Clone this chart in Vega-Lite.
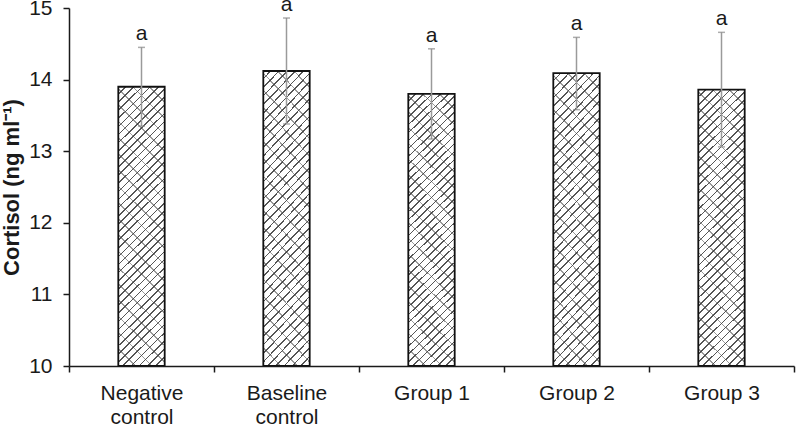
{
  "$schema": "https://vega.github.io/schema/vega-lite/v6.json",
  "width": 725,
  "height": 358,
  "autosize": "none",
  "padding": {"left": 69, "top": 8, "right": 2, "bottom": 58},
  "config": {"view": {"stroke": null}, "font": "Liberation Sans"},
  "data": {
    "values": [
      {"group": "Negative control", "mean": 13.9, "lo": 13.35, "hi": 14.45, "sig": "a"},
      {"group": "Baseline control", "mean": 14.12, "lo": 13.38, "hi": 14.86, "sig": "a"},
      {"group": "Group 1", "mean": 13.8, "lo": 13.17, "hi": 14.43, "sig": "a"},
      {"group": "Group 2", "mean": 14.09, "lo": 13.58, "hi": 14.59, "sig": "a"},
      {"group": "Group 3", "mean": 13.86, "lo": 13.06, "hi": 14.66, "sig": "a"}
    ]
  },
  "encoding": {
    "x": {
      "field": "group",
      "type": "nominal",
      "sort": null,
      "scale": {"paddingInner": 0, "paddingOuter": 0},
      "axis": {
        "title": null,
        "labelAngle": 0,
        "labelFontSize": 21,
        "labelColor": "#1a1a1a",
        "labelPadding": 10,
        "labelLineHeight": 24,
        "labelExpr": "indexof(datum.label, 'control') > 0 ? split(datum.label, ' ') : datum.label",
        "domainColor": "#1a1a1a",
        "domainWidth": 1.5,
        "tickColor": "#1a1a1a",
        "tickWidth": 1.5,
        "tickSize": 6,
        "tickBand": "extent",
        "zindex": 1
      }
    }
  },
  "layer": [
    {
      "mark": {
        "type": "bar",
        "width": {"band": 0.32},
        "fill": {
          "gradient": "linear",
          "x1": 0, "y1": 0, "x2": 0.186, "y2": 1.133,
          "stops": [
            {"offset": 0, "color": "#ffffff"}, {"offset": 0.02, "color": "#ffffff"}, {"offset": 0.02, "color": "#555555"}, {"offset": 0.025, "color": "#555555"},
            {"offset": 0.025, "color": "#ffffff"}, {"offset": 0.045, "color": "#ffffff"}, {"offset": 0.045, "color": "#555555"}, {"offset": 0.05, "color": "#555555"},
            {"offset": 0.05, "color": "#ffffff"}, {"offset": 0.07, "color": "#ffffff"}, {"offset": 0.07, "color": "#555555"}, {"offset": 0.075, "color": "#555555"},
            {"offset": 0.075, "color": "#ffffff"}, {"offset": 0.095, "color": "#ffffff"}, {"offset": 0.095, "color": "#555555"}, {"offset": 0.1, "color": "#555555"},
            {"offset": 0.1, "color": "#ffffff"}, {"offset": 0.12, "color": "#ffffff"}, {"offset": 0.12, "color": "#555555"}, {"offset": 0.125, "color": "#555555"},
            {"offset": 0.125, "color": "#ffffff"}, {"offset": 0.145, "color": "#ffffff"}, {"offset": 0.145, "color": "#555555"}, {"offset": 0.15, "color": "#555555"},
            {"offset": 0.15, "color": "#ffffff"}, {"offset": 0.17, "color": "#ffffff"}, {"offset": 0.17, "color": "#555555"}, {"offset": 0.175, "color": "#555555"},
            {"offset": 0.175, "color": "#ffffff"}, {"offset": 0.195, "color": "#ffffff"}, {"offset": 0.195, "color": "#555555"}, {"offset": 0.2, "color": "#555555"},
            {"offset": 0.2, "color": "#ffffff"}, {"offset": 0.22, "color": "#ffffff"}, {"offset": 0.22, "color": "#555555"}, {"offset": 0.225, "color": "#555555"},
            {"offset": 0.225, "color": "#ffffff"}, {"offset": 0.245, "color": "#ffffff"}, {"offset": 0.245, "color": "#555555"}, {"offset": 0.25, "color": "#555555"},
            {"offset": 0.25, "color": "#ffffff"}, {"offset": 0.27, "color": "#ffffff"}, {"offset": 0.27, "color": "#555555"}, {"offset": 0.275, "color": "#555555"},
            {"offset": 0.275, "color": "#ffffff"}, {"offset": 0.295, "color": "#ffffff"}, {"offset": 0.295, "color": "#555555"}, {"offset": 0.3, "color": "#555555"},
            {"offset": 0.3, "color": "#ffffff"}, {"offset": 0.32, "color": "#ffffff"}, {"offset": 0.32, "color": "#555555"}, {"offset": 0.325, "color": "#555555"},
            {"offset": 0.325, "color": "#ffffff"}, {"offset": 0.345, "color": "#ffffff"}, {"offset": 0.345, "color": "#555555"}, {"offset": 0.35, "color": "#555555"},
            {"offset": 0.35, "color": "#ffffff"}, {"offset": 0.37, "color": "#ffffff"}, {"offset": 0.37, "color": "#555555"}, {"offset": 0.375, "color": "#555555"},
            {"offset": 0.375, "color": "#ffffff"}, {"offset": 0.395, "color": "#ffffff"}, {"offset": 0.395, "color": "#555555"}, {"offset": 0.4, "color": "#555555"},
            {"offset": 0.4, "color": "#ffffff"}, {"offset": 0.42, "color": "#ffffff"}, {"offset": 0.42, "color": "#555555"}, {"offset": 0.425, "color": "#555555"},
            {"offset": 0.425, "color": "#ffffff"}, {"offset": 0.445, "color": "#ffffff"}, {"offset": 0.445, "color": "#555555"}, {"offset": 0.45, "color": "#555555"},
            {"offset": 0.45, "color": "#ffffff"}, {"offset": 0.47, "color": "#ffffff"}, {"offset": 0.47, "color": "#555555"}, {"offset": 0.475, "color": "#555555"},
            {"offset": 0.475, "color": "#ffffff"}, {"offset": 0.495, "color": "#ffffff"}, {"offset": 0.495, "color": "#555555"}, {"offset": 0.5, "color": "#555555"},
            {"offset": 0.5, "color": "#ffffff"}, {"offset": 0.52, "color": "#ffffff"}, {"offset": 0.52, "color": "#555555"}, {"offset": 0.525, "color": "#555555"},
            {"offset": 0.525, "color": "#ffffff"}, {"offset": 0.545, "color": "#ffffff"}, {"offset": 0.545, "color": "#555555"}, {"offset": 0.55, "color": "#555555"},
            {"offset": 0.55, "color": "#ffffff"}, {"offset": 0.57, "color": "#ffffff"}, {"offset": 0.57, "color": "#555555"}, {"offset": 0.575, "color": "#555555"},
            {"offset": 0.575, "color": "#ffffff"}, {"offset": 0.595, "color": "#ffffff"}, {"offset": 0.595, "color": "#555555"}, {"offset": 0.6, "color": "#555555"},
            {"offset": 0.6, "color": "#ffffff"}, {"offset": 0.62, "color": "#ffffff"}, {"offset": 0.62, "color": "#555555"}, {"offset": 0.625, "color": "#555555"},
            {"offset": 0.625, "color": "#ffffff"}, {"offset": 0.645, "color": "#ffffff"}, {"offset": 0.645, "color": "#555555"}, {"offset": 0.65, "color": "#555555"},
            {"offset": 0.65, "color": "#ffffff"}, {"offset": 0.67, "color": "#ffffff"}, {"offset": 0.67, "color": "#555555"}, {"offset": 0.675, "color": "#555555"},
            {"offset": 0.675, "color": "#ffffff"}, {"offset": 0.695, "color": "#ffffff"}, {"offset": 0.695, "color": "#555555"}, {"offset": 0.7, "color": "#555555"},
            {"offset": 0.7, "color": "#ffffff"}, {"offset": 0.72, "color": "#ffffff"}, {"offset": 0.72, "color": "#555555"}, {"offset": 0.725, "color": "#555555"},
            {"offset": 0.725, "color": "#ffffff"}, {"offset": 0.745, "color": "#ffffff"}, {"offset": 0.745, "color": "#555555"}, {"offset": 0.75, "color": "#555555"},
            {"offset": 0.75, "color": "#ffffff"}, {"offset": 0.77, "color": "#ffffff"}, {"offset": 0.77, "color": "#555555"}, {"offset": 0.775, "color": "#555555"},
            {"offset": 0.775, "color": "#ffffff"}, {"offset": 0.795, "color": "#ffffff"}, {"offset": 0.795, "color": "#555555"}, {"offset": 0.8, "color": "#555555"},
            {"offset": 0.8, "color": "#ffffff"}, {"offset": 0.82, "color": "#ffffff"}, {"offset": 0.82, "color": "#555555"}, {"offset": 0.825, "color": "#555555"},
            {"offset": 0.825, "color": "#ffffff"}, {"offset": 0.845, "color": "#ffffff"}, {"offset": 0.845, "color": "#555555"}, {"offset": 0.85, "color": "#555555"},
            {"offset": 0.85, "color": "#ffffff"}, {"offset": 0.87, "color": "#ffffff"}, {"offset": 0.87, "color": "#555555"}, {"offset": 0.875, "color": "#555555"},
            {"offset": 0.875, "color": "#ffffff"}, {"offset": 0.895, "color": "#ffffff"}, {"offset": 0.895, "color": "#555555"}, {"offset": 0.9, "color": "#555555"},
            {"offset": 0.9, "color": "#ffffff"}, {"offset": 0.92, "color": "#ffffff"}, {"offset": 0.92, "color": "#555555"}, {"offset": 0.925, "color": "#555555"},
            {"offset": 0.925, "color": "#ffffff"}, {"offset": 0.945, "color": "#ffffff"}, {"offset": 0.945, "color": "#555555"}, {"offset": 0.95, "color": "#555555"},
            {"offset": 0.95, "color": "#ffffff"}, {"offset": 0.97, "color": "#ffffff"}, {"offset": 0.97, "color": "#555555"}, {"offset": 0.975, "color": "#555555"},
            {"offset": 0.975, "color": "#ffffff"}, {"offset": 0.995, "color": "#ffffff"}, {"offset": 0.995, "color": "#555555"}, {"offset": 1, "color": "#555555"}
          ]
        }
      },
      "encoding": {
        "y": {
          "field": "mean",
          "type": "quantitative",
          "scale": {"domain": [10, 15], "nice": false, "zero": false},
          "axis": {
            "title": "Cortisol (ng ml⁻¹)",
            "titleFontSize": 22,
            "titleFontWeight": "bold",
            "titleColor": "#1a1a1a",
            "titlePadding": 5,
            "values": [10, 11, 12, 13, 14, 15],
            "format": "d",
            "grid": false,
            "labelFontSize": 21,
            "labelColor": "#1a1a1a",
            "labelPadding": 11,
            "domainColor": "#1a1a1a",
            "domainWidth": 1.5,
            "tickColor": "#1a1a1a",
            "tickWidth": 1.5,
            "tickSize": 6
          }
        },
        "y2": {"datum": 10}
      }
    },
    {
      "mark": {
        "type": "bar",
        "width": {"band": 0.32},
        "stroke": "#111111",
        "strokeWidth": 1.8,
        "fill": {
          "gradient": "linear",
          "x1": 1, "y1": 0, "x2": 0.814, "y2": 1.133,
          "stops": [
            {"offset": 0, "color": "rgba(255,255,255,0)"}, {"offset": 0.045, "color": "rgba(255,255,255,0)"}, {"offset": 0.045, "color": "rgba(70,70,70,0.55)"}, {"offset": 0.05, "color": "rgba(70,70,70,0.55)"},
            {"offset": 0.05, "color": "rgba(255,255,255,0)"}, {"offset": 0.095, "color": "rgba(255,255,255,0)"}, {"offset": 0.095, "color": "rgba(70,70,70,0.55)"}, {"offset": 0.1, "color": "rgba(70,70,70,0.55)"},
            {"offset": 0.1, "color": "rgba(255,255,255,0)"}, {"offset": 0.145, "color": "rgba(255,255,255,0)"}, {"offset": 0.145, "color": "rgba(70,70,70,0.55)"}, {"offset": 0.15, "color": "rgba(70,70,70,0.55)"},
            {"offset": 0.15, "color": "rgba(255,255,255,0)"}, {"offset": 0.195, "color": "rgba(255,255,255,0)"}, {"offset": 0.195, "color": "rgba(70,70,70,0.55)"}, {"offset": 0.2, "color": "rgba(70,70,70,0.55)"},
            {"offset": 0.2, "color": "rgba(255,255,255,0)"}, {"offset": 0.245, "color": "rgba(255,255,255,0)"}, {"offset": 0.245, "color": "rgba(70,70,70,0.55)"}, {"offset": 0.25, "color": "rgba(70,70,70,0.55)"},
            {"offset": 0.25, "color": "rgba(255,255,255,0)"}, {"offset": 0.295, "color": "rgba(255,255,255,0)"}, {"offset": 0.295, "color": "rgba(70,70,70,0.55)"}, {"offset": 0.3, "color": "rgba(70,70,70,0.55)"},
            {"offset": 0.3, "color": "rgba(255,255,255,0)"}, {"offset": 0.345, "color": "rgba(255,255,255,0)"}, {"offset": 0.345, "color": "rgba(70,70,70,0.55)"}, {"offset": 0.35, "color": "rgba(70,70,70,0.55)"},
            {"offset": 0.35, "color": "rgba(255,255,255,0)"}, {"offset": 0.395, "color": "rgba(255,255,255,0)"}, {"offset": 0.395, "color": "rgba(70,70,70,0.55)"}, {"offset": 0.4, "color": "rgba(70,70,70,0.55)"},
            {"offset": 0.4, "color": "rgba(255,255,255,0)"}, {"offset": 0.445, "color": "rgba(255,255,255,0)"}, {"offset": 0.445, "color": "rgba(70,70,70,0.55)"}, {"offset": 0.45, "color": "rgba(70,70,70,0.55)"},
            {"offset": 0.45, "color": "rgba(255,255,255,0)"}, {"offset": 0.495, "color": "rgba(255,255,255,0)"}, {"offset": 0.495, "color": "rgba(70,70,70,0.55)"}, {"offset": 0.5, "color": "rgba(70,70,70,0.55)"},
            {"offset": 0.5, "color": "rgba(255,255,255,0)"}, {"offset": 0.545, "color": "rgba(255,255,255,0)"}, {"offset": 0.545, "color": "rgba(70,70,70,0.55)"}, {"offset": 0.55, "color": "rgba(70,70,70,0.55)"},
            {"offset": 0.55, "color": "rgba(255,255,255,0)"}, {"offset": 0.595, "color": "rgba(255,255,255,0)"}, {"offset": 0.595, "color": "rgba(70,70,70,0.55)"}, {"offset": 0.6, "color": "rgba(70,70,70,0.55)"},
            {"offset": 0.6, "color": "rgba(255,255,255,0)"}, {"offset": 0.645, "color": "rgba(255,255,255,0)"}, {"offset": 0.645, "color": "rgba(70,70,70,0.55)"}, {"offset": 0.65, "color": "rgba(70,70,70,0.55)"},
            {"offset": 0.65, "color": "rgba(255,255,255,0)"}, {"offset": 0.695, "color": "rgba(255,255,255,0)"}, {"offset": 0.695, "color": "rgba(70,70,70,0.55)"}, {"offset": 0.7, "color": "rgba(70,70,70,0.55)"},
            {"offset": 0.7, "color": "rgba(255,255,255,0)"}, {"offset": 0.745, "color": "rgba(255,255,255,0)"}, {"offset": 0.745, "color": "rgba(70,70,70,0.55)"}, {"offset": 0.75, "color": "rgba(70,70,70,0.55)"},
            {"offset": 0.75, "color": "rgba(255,255,255,0)"}, {"offset": 0.795, "color": "rgba(255,255,255,0)"}, {"offset": 0.795, "color": "rgba(70,70,70,0.55)"}, {"offset": 0.8, "color": "rgba(70,70,70,0.55)"},
            {"offset": 0.8, "color": "rgba(255,255,255,0)"}, {"offset": 0.845, "color": "rgba(255,255,255,0)"}, {"offset": 0.845, "color": "rgba(70,70,70,0.55)"}, {"offset": 0.85, "color": "rgba(70,70,70,0.55)"},
            {"offset": 0.85, "color": "rgba(255,255,255,0)"}, {"offset": 0.895, "color": "rgba(255,255,255,0)"}, {"offset": 0.895, "color": "rgba(70,70,70,0.55)"}, {"offset": 0.9, "color": "rgba(70,70,70,0.55)"},
            {"offset": 0.9, "color": "rgba(255,255,255,0)"}, {"offset": 0.945, "color": "rgba(255,255,255,0)"}, {"offset": 0.945, "color": "rgba(70,70,70,0.55)"}, {"offset": 0.95, "color": "rgba(70,70,70,0.55)"},
            {"offset": 0.95, "color": "rgba(255,255,255,0)"}, {"offset": 0.995, "color": "rgba(255,255,255,0)"}, {"offset": 0.995, "color": "rgba(70,70,70,0.55)"}, {"offset": 1, "color": "rgba(70,70,70,0.55)"}
          ]
        }
      },
      "encoding": {
        "y": {"field": "mean", "type": "quantitative"},
        "y2": {"datum": 10}
      }
    },
    {
      "mark": {"type": "rule", "color": "#9a9a9a", "strokeWidth": 1.5},
      "encoding": {
        "y": {"field": "lo", "type": "quantitative"},
        "y2": {"field": "hi"}
      }
    },
    {
      "mark": {"type": "tick", "color": "#8a8a8a", "size": 7, "thickness": 1.5},
      "encoding": {"y": {"field": "hi", "type": "quantitative"}}
    },
    {
      "mark": {"type": "tick", "color": "#8a8a8a", "size": 7, "thickness": 1.5},
      "encoding": {"y": {"field": "lo", "type": "quantitative"}}
    },
    {
      "mark": {"type": "text", "fontSize": 21, "color": "#1a1a1a", "baseline": "alphabetic", "dy": -7},
      "encoding": {
        "y": {"field": "hi", "type": "quantitative"},
        "text": {"field": "sig"}
      }
    }
  ]
}
